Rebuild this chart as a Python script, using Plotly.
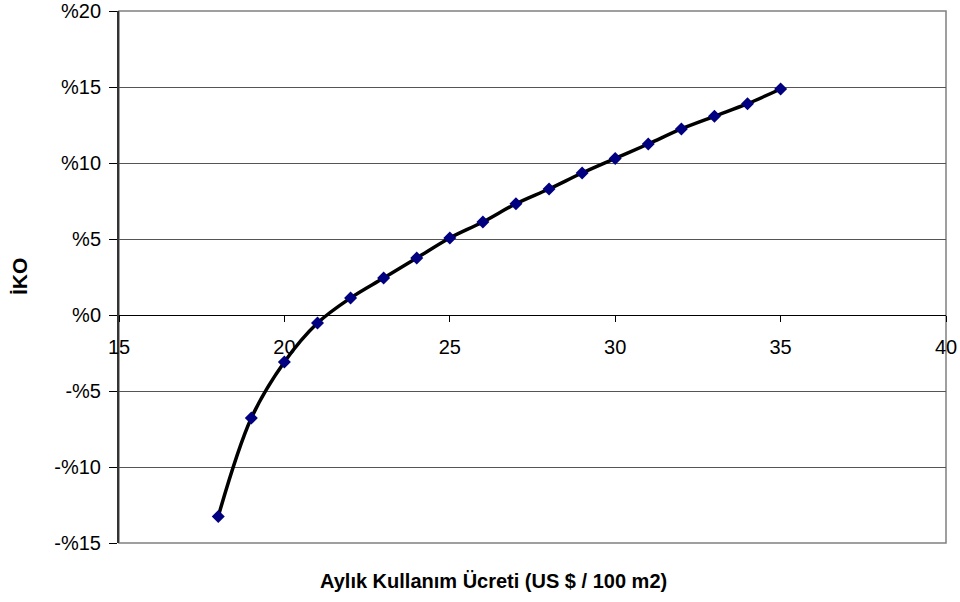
import plotly.graph_objects as go

# Monthly fee (US $ / 100 m2) and the resulting internal rate of return (%)
fee = [18, 19, 20, 21, 22, 23, 24, 25, 26, 27, 28, 29, 30, 31, 32, 33, 34, 35]
iko = [-13.25, -6.78, -3.09, -0.53, 1.12, 2.43, 3.75, 5.07, 6.12, 7.32,
       8.29, 9.34, 10.30, 11.25, 12.24, 13.07, 13.90, 14.87]

x_ticks = [15, 20, 25, 30, 35, 40]
y_ticks = [-15, -10, -5, 0, 5, 10, 15, 20]
y_tick_text = ["-%15", "-%10", "-%5", "%0", "%5", "%10", "%15", "%20"]

x_range = [15, 40]
y_range = [-15, 20]

FONT = "Liberation Sans, Arial, sans-serif"

fig = go.Figure()
fig.add_trace(go.Scatter(
    x=fee, y=iko,
    mode="lines+markers",
    line=dict(color="black", width=3.5, shape="spline", smoothing=1),
    marker=dict(symbol="diamond", size=10, color="#000080",
                line=dict(width=0)),
    showlegend=False,
    hoverinfo="x+y",
))

# x axis crosses the value axis at zero
zero_pos = (0 - y_range[0]) / (y_range[1] - y_range[0])

fig.update_layout(
    width=960, height=602,
    margin=dict(l=119, r=14, t=11, b=59),
    paper_bgcolor="white",
    plot_bgcolor="white",
    font=dict(family=FONT, size=20, color="black"),
    xaxis=dict(
        range=x_range,
        tickvals=x_ticks,
        ticks="outside", ticklen=6, tickcolor="black", tickwidth=1,
        ticklabelstandoff=8,
        showline=True, linecolor="black", linewidth=1,
        showgrid=False, zeroline=False,
        anchor="free", position=zero_pos,
        automargin=False,
        tickfont=dict(family=FONT, size=20, color="black"),
    ),
    yaxis=dict(
        range=y_range,
        tickvals=y_ticks, ticktext=y_tick_text,
        ticks="outside", ticklen=8, tickcolor="black", tickwidth=1,
        ticklabelstandoff=4,
        showline=True, linecolor="#333333", linewidth=2,
        showgrid=True, gridcolor="#555555", gridwidth=1,
        zeroline=False,
        automargin=False,
        tickfont=dict(family=FONT, size=20, color="black"),
        domain=[0, 1],
    ),
    shapes=[dict(
        type="rect", xref="paper", yref="paper", x0=0, x1=1, y0=0, y1=1,
        line=dict(color="#808080", width=1.5), layer="below",
    )],
    annotations=[
        dict(text="<b>Aylık Kullanım Ücreti (US $ / 100 m2)</b>",
             xref="paper", yref="paper", x=(493 - 119) / (946 - 119), y=0,
             yshift=-38, xanchor="center", yanchor="middle", showarrow=False,
             font=dict(family=FONT, size=20, color="black")),
        dict(text="<b>İKO</b>",
             xref="paper", yref="paper", x=0, xshift=-100, y=0.5,
             textangle=-90, xanchor="center", yanchor="middle", showarrow=False,
             font=dict(family=FONT, size=21, color="black")),
    ],
)

fig.write_html("out.html")
